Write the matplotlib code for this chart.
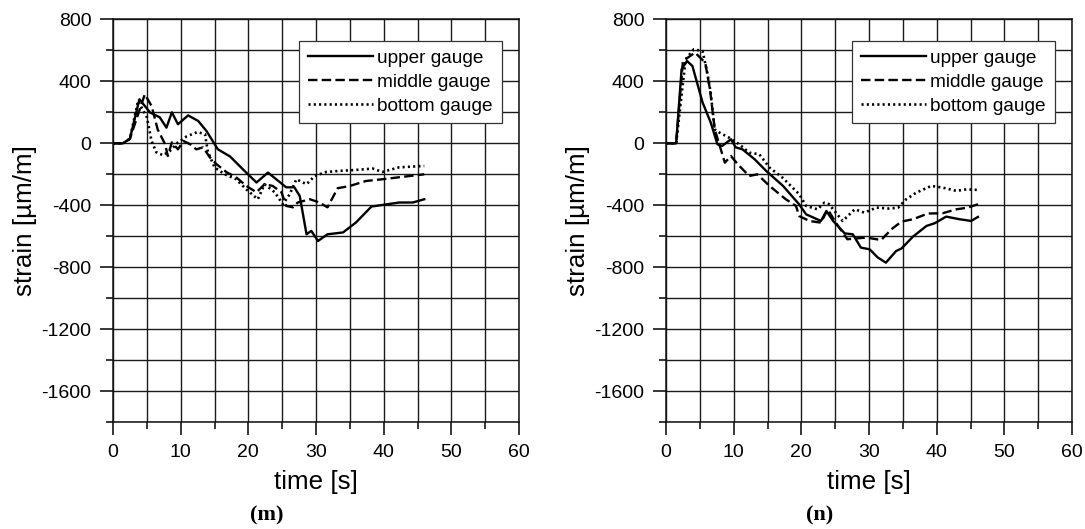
import matplotlib
matplotlib.use("Agg")
import matplotlib.pyplot as plt
from matplotlib.ticker import MultipleLocator

plt.rcParams['font.family'] = ['Liberation Sans', 'DejaVu Sans']
plt.rcParams['axes.unicode_minus'] = False

# ---- data: panel (m) ----
m_upper_t = [0, 1.5, 2.5, 3.9, 5.5, 6.9, 7.9, 8.7, 9.6, 11.1, 12.6, 13.8, 15.5, 17.3, 19.2, 21.2,
             22.9, 25.6, 26.8, 27.6, 28.6, 29.3, 30.3, 31.7, 34.0, 35.9, 38.2, 40.4, 42.3, 44.3, 46.0]
m_upper_s = [0, 0, 30, 284, 198, 168, 101, 200, 123, 180, 144, 80, -39, -85, -168, -253,
             -189, -284, -284, -340, -587, -565, -630, -587, -575, -511, -408, -394, -382, -382, -361]

m_middle_t = [0, 1.5, 2.5, 4.7, 5.7, 6.6, 7.7, 8.1, 8.7, 9.6, 10.4, 11.4, 12.3, 13.3, 14.3, 15.3,
              16.8, 18.2, 19.7, 21.2, 22.4, 23.6, 24.9, 25.6, 26.6, 27.3, 29.1, 30.5, 31.7, 33.2,
              35.0, 37.4, 39.8, 42.3, 46.0]
m_middle_s = [0, 0, 30, 316, 241, 90, -6, -82, 6, -39, 15, -6, -39, -26, -90, -135,
              -187, -219, -275, -316, -264, -275, -316, -404, -413, -382, -361, -382, -413, -290,
              -275, -243, -232, -219, -200]

m_bottom_t = [0, 1.5, 2.5, 3.7, 5.0, 5.7, 6.4, 7.4, 8.4, 9.6, 10.9, 12.5, 13.6, 14.0, 15.0, 16.5,
              18.2, 19.7, 21.4, 22.4, 23.9, 25.1, 26.1, 27.1, 28.6, 29.8, 31.5, 33.5, 35.9, 38.4,
              39.8, 42.3, 46.0]
m_bottom_s = [0, 0, 30, 273, 168, 15, -58, -77, -50, 6, 45, 73, 58, -50, -155, -200,
              -232, -297, -361, -264, -316, -393, -330, -232, -264, -211, -185, -178, -172, -163,
              -185, -155, -146]

# ---- data: panel (n) ----
n_upper_t = [0, 1.5, 2.3, 3.1, 3.9, 5.4, 6.6, 7.6, 8.3, 9.6, 10.3, 11.3, 13.1, 14.8, 17.3, 19.7,
             20.7, 22.9, 23.7, 24.7, 26.4, 27.6, 28.8, 30.1, 31.3, 32.5, 34.0, 34.8, 36.5, 38.5,
             39.7, 41.4, 43.4, 45.1, 46.1]
n_upper_s = [0, 0, 477, 531, 499, 264, 135, -6, -17, 26, -26, -39, -103, -178, -275, -395,
             -458, -501, -437, -501, -581, -587, -673, -684, -737, -770, -695, -679, -602, -533,
             -516, -473, -490, -501, -475]

n_middle_t = [0, 1.5, 2.5, 4.3, 5.8, 6.5, 7.2, 8.7, 9.6, 10.6, 12.3, 13.5, 15.3, 17.7, 19.2, 19.7,
              21.2, 22.9, 23.9, 25.1, 26.8, 29.6, 31.8, 33.3, 34.8, 36.5, 38.7, 40.9, 42.9, 44.6, 46.4]
n_middle_s = [0, 0, 531, 585, 520, 348, 90, -125, -82, -135, -211, -200, -275, -361, -404, -470,
              -501, -512, -426, -512, -619, -608, -624, -555, -505, -490, -453, -451, -426, -415, -389]

n_bottom_t = [0, 1.5, 2.9, 4.1, 5.4, 6.1, 6.6, 7.2, 7.9, 9.3, 10.8, 12.3, 13.8, 15.3, 17.2, 19.7,
              20.7, 22.4, 23.4, 24.1, 25.1, 26.1, 27.9, 29.3, 31.1, 33.0, 34.3, 35.5, 37.0, 39.2,
              40.9, 42.9, 44.4, 46.1]
n_bottom_s = [0, 0, 542, 606, 595, 456, 327, 90, 69, 37, -6, -60, -71, -157, -221, -329,
              -404, -426, -383, -393, -447, -501, -426, -447, -415, -421, -415, -361, -318, -275,
              -286, -307, -297, -301]

legend_labels = ["upper gauge", "middle gauge", "bottom gauge"]
x_ticks = [0, 10, 20, 30, 40, 50, 60]
y_ticks = [800, 400, 0, -400, -800, -1200, -1600]
captions = ["(m)", "(n)"]

fig = plt.figure(figsize=(10.85, 5.29), dpi=100)
W, H = 1085, 529
top_px, bot_px = 19.3, 422.3
ax_m = fig.add_axes([113 / W, (H - bot_px) / H, 406 / W, (bot_px - top_px) / H])
ax_n = fig.add_axes([666 / W, (H - bot_px) / H, 406 / W, (bot_px - top_px) / H])

styles = [dict(ls='-', lw=1.7),
          dict(ls=(0, (4.0, 1.8)), lw=1.7),
          dict(ls=(0, (0.8, 1.2)), lw=1.9)]

panels = [
    (ax_m, [(m_upper_t, m_upper_s), (m_middle_t, m_middle_s), (m_bottom_t, m_bottom_s)]),
    (ax_n, [(n_upper_t, n_upper_s), (n_middle_t, n_middle_s), (n_bottom_t, n_bottom_s)]),
]

for i, (ax, series) in enumerate(panels):
    for (t, s), st, lab in zip(series, styles, legend_labels):
        ax.plot(t, s, color='black', label=lab, **st)
    ax.set_xlim(0, 60)
    ax.set_ylim(-1800, 800)
    ax.set_xticks(x_ticks)
    ax.set_yticks(y_ticks)
    ax.xaxis.set_minor_locator(MultipleLocator(5))
    ax.yaxis.set_minor_locator(MultipleLocator(200))
    ax.grid(True, which='both', color='#1a1a1a', lw=1.0)
    ax.set_axisbelow(True)
    ax.tick_params(which='major', direction='out', length=9.5, width=1.1, labelsize=14,
                   pad=6, top=False, right=False, colors='black')
    ax.tick_params(which='minor', direction='out', length=5, width=1.1,
                   top=False, right=False, colors='black')
    for sp in ax.spines.values():
        sp.set_linewidth(1.1)
        sp.set_color('#111111')
    ax.set_xlabel("time [s]", fontsize=18.7)
    ax.set_ylabel("strain [µm/m]", fontsize=18.7)
    ax.xaxis.set_label_coords(0.5, -0.118)
    ax.yaxis.set_label_coords(-0.186, 0.5)
    leg = ax.legend(loc='upper right', bbox_to_anchor=(0.957, 0.946), fontsize=13.7,
                    handlelength=3.4, handletextpad=0.25, borderpad=0.45, labelspacing=0.35,
                    fancybox=False, framealpha=1, edgecolor='#333333', borderaxespad=0)
    leg.get_frame().set_linewidth(0.9)

for cx, cap in zip([267, 820], captions):
    fig.text(cx / W, 1 - 515 / H, cap, ha='center', va='center',
             fontsize=16, fontweight='bold', family=['Liberation Serif', 'DejaVu Serif'])

fig.savefig("out.png", dpi=100)
